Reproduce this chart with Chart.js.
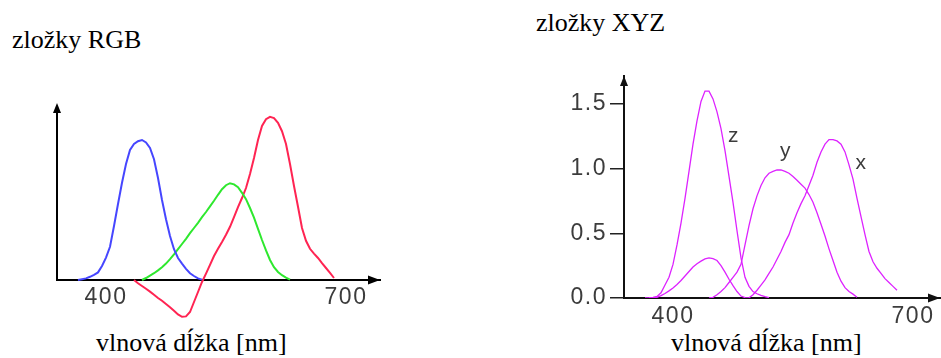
<!DOCTYPE html>
<html>
<head>
<meta charset="utf-8">
<script src="https://cdn.jsdelivr.net/npm/chart.js@4/dist/chart.umd.min.js"></script>
<style>
html,body{margin:0;padding:0;background:#fff;width:941px;height:358px;overflow:hidden;position:relative}
.cap{position:absolute;font-family:"Liberation Serif","Times New Roman",serif;font-size:26px;line-height:26px;color:#000;white-space:nowrap}
canvas{position:absolute;top:0}
</style>
</head>
<body>
<div class="cap" style="left:12px;top:26.5px">zložky RGB</div>
<div class="cap" style="left:536px;top:10px">zložky XYZ</div>
<div class="cap" style="left:96px;top:330px">vlnová dĺžka [nm]</div>
<div class="cap" style="left:671px;top:330px">vlnová dĺžka [nm]</div>
<canvas id="c1" width="470" height="358" style="left:0"></canvas>
<canvas id="c2" width="471" height="358" style="left:470px"></canvas>
<script>
// ---- data ----
const wavelengths = [365,370,375,380,385,390,395,400,405,410,415,420,425,430,435,440,445,450,455,460,465,470,475,480,485,490,495,500,505,510,515,520,525,530,535,540,545,550,555,560,565,570,575,580,585,590,595,600,605,610,615,620,625,630,635,640,645,650,655,660,665,670,675,680,685];

const rgbB = [0,0.002,0.004,0.008,0.013,0.019,0.035,0.056,0.083,0.135,0.19,0.243,0.29,0.325,0.34,0.347,0.35,0.344,0.33,0.302,0.255,0.2,0.152,0.11,0.077,0.055,0.041,0.028,0.017,0.01,0.004,0.001,null,null,null,null,null,null,null,null,null,null,null,null,null,null,null,null,null,null,null,null,null,null,null,null,null,null,null,null,null,null,null,null,null];
const rgbG = [null,null,null,null,null,null,null,null,null,null,null,null,null,null,null,null,0,0.005,0.011,0.017,0.024,0.032,0.041,0.052,0.064,0.077,0.09,0.103,0.117,0.13,0.143,0.157,0.17,0.184,0.198,0.213,0.227,0.237,0.242,0.239,0.232,0.218,0.202,0.18,0.156,0.128,0.1,0.074,0.05,0.032,0.02,0.012,0.006,0.001,null,null,null,null,null,null,null,null,null,null,null];
const rgbR = [null,null,null,null,null,null,null,null,null,null,null,null,null,null,0,-0.008,-0.015,-0.022,-0.029,-0.037,-0.045,-0.052,-0.06,-0.068,-0.077,-0.086,-0.092,-0.091,-0.08,-0.055,-0.03,-0.005,0.016,0.038,0.06,0.078,0.095,0.113,0.133,0.157,0.182,0.205,0.23,0.265,0.305,0.35,0.385,0.402,0.408,0.405,0.393,0.372,0.34,0.29,0.235,0.183,0.13,0.098,0.078,0.066,0.055,0.042,0.03,0.018,0.005];

const xyzZ = [0,0.002,0.005,0.012,0.04,0.1,0.16,0.26,0.41,0.58,0.77,0.98,1.19,1.37,1.52,1.6,1.6,1.54,1.44,1.31,1.14,0.94,0.74,0.52,0.31,0.16,0.09,0.05,0.033,0.02,0.01,0.003,null,null,null,null,null,null,null,null,null,null,null,null,null,null,null,null,null,null,null,null,null,null,null,null,null,null,null,null,null,null,null,null,null];
const xyzY = [null,null,null,null,null,null,null,null,null,null,null,null,null,null,null,null,0,0.005,0.025,0.05,0.08,0.12,0.16,0.2,0.26,0.41,0.56,0.69,0.79,0.87,0.93,0.965,0.98,0.99,0.99,0.98,0.965,0.94,0.91,0.88,0.85,0.8,0.74,0.66,0.57,0.48,0.38,0.29,0.2,0.13,0.08,0.05,0.03,0.005,null,null,null,null,null,null,null,null,null,null,null];
const xyzX = [null,null,0,0.005,0.018,0.035,0.055,0.077,0.105,0.135,0.17,0.205,0.24,0.265,0.285,0.303,0.31,0.305,0.29,0.25,0.2,0.145,0.095,0.05,0.015,0.003,0.001,0.025,0.06,0.1,0.14,0.19,0.24,0.3,0.36,0.43,0.49,0.58,0.66,0.73,0.79,0.87,0.95,1.05,1.13,1.19,1.225,1.225,1.215,1.19,1.13,1.03,0.92,0.77,0.63,0.49,0.36,0.28,0.23,0.19,0.15,0.12,0.09,0.06,null];

const xTickLabels = [400, 700];
const yTickLabelsXYZ = [0, 0.5, 1.0, 1.5];
const seriesNames = { r: 'R', g: 'G', b: 'B', x: 'x', y: 'y', z: 'z' };

// ---- helpers ----
const pts = vals => wavelengths.map((w, i) => ({x: w, y: vals[i]})).filter(p => p.y !== null);
const tickFont = {family: '"Liberation Sans", Arial, sans-serif', size: 23};
const tickColor = '#3c3c3c';

const spacing = {
  id: 'spacing',
  beforeLayout(chart) { chart.ctx.letterSpacing = '1.5px'; },
  beforeDraw(chart) { chart.ctx.letterSpacing = '1.5px'; }
};

const axisArrows = {
  id: 'axisArrows',
  afterDraw(chart, args, o) {
    const {ctx, chartArea: a, scales: {y}} = chart;
    const y0 = y.getPixelForValue(0);
    ctx.save();
    ctx.strokeStyle = o.color; ctx.fillStyle = o.color; ctx.lineWidth = o.width;
    if (o.drawYLine) {
      ctx.beginPath(); ctx.moveTo(a.left, y0); ctx.lineTo(a.left, a.top + 4); ctx.stroke();
    }
    ctx.beginPath();
    ctx.moveTo(a.left, a.top); ctx.lineTo(a.left - 4, a.top + 10); ctx.lineTo(a.left + 4, a.top + 10);
    ctx.closePath(); ctx.fill();
    ctx.beginPath();
    ctx.moveTo(a.right, y0); ctx.lineTo(a.right - 12, y0 - 4.5); ctx.lineTo(a.right - 12, y0 + 4.5);
    ctx.closePath(); ctx.fill();
    ctx.restore();
  }
};

const curveLabels = {
  id: 'curveLabels',
  afterDatasetsDraw(chart, args, o) {
    if (!o.show) return;
    const {ctx, scales: {x, y}} = chart;
    ctx.save();
    ctx.font = o.font; ctx.fillStyle = o.color; ctx.textAlign = 'center'; ctx.textBaseline = 'alphabetic';
    chart.data.datasets.forEach(ds => {
      if (ds.tagAt) ctx.fillText(ds.label, x.getPixelForValue(ds.tagAt[0]), y.getPixelForValue(ds.tagAt[1]));
    });
    ctx.restore();
  }
};

const lineDs = (label, vals, color, w, extra) => Object.assign({
  label, data: pts(vals), borderColor: color, borderWidth: w, pointRadius: 0, tension: 0, fill: false
}, extra || {});

// ---- RGB chart ----
new Chart(document.getElementById('c1'), {
  type: 'line',
  data: { datasets: [
    lineDs(seriesNames.b, rgbB, '#4646ff', 2),
    lineDs(seriesNames.g, rgbG, '#2ee82e', 2),
    lineDs(seriesNames.r, rgbR, '#ff2452', 2)
  ]},
  options: {
    responsive: false, animation: false,
    layout: { padding: {left: 57, top: 103, right: 90, bottom: 38} },
    plugins: { legend: {display: false}, tooltip: {enabled: false},
      axisArrows: {color: '#000', width: 2, drawYLine: true}, curveLabels: {show: false} },
    scales: {
      x: { type: 'linear', min: 338.75, max: 742.5, position: {y: 0},
        afterBuildTicks: s => { s.ticks = xTickLabels.map(v => ({value: v})); },
        ticks: { font: tickFont, color: tickColor, padding: 4, maxRotation: 0, callback: v => String(v) },
        grid: { display: false, drawTicks: false },
        border: { display: true, color: '#000', width: 2 } },
      y: { type: 'linear', min: -0.1, max: 0.4425, display: false }
    }
  },
  plugins: [spacing, axisArrows, curveLabels]
});

// ---- XYZ chart ----
const mag = '#dd22ff';
new Chart(document.getElementById('c2'), {
  type: 'line',
  data: { datasets: [
    lineDs(seriesNames.z, xyzZ, mag, 1.3, {tagAt: [476.25, 1.207]}),
    lineDs(seriesNames.y, xyzY, mag, 1.3, {tagAt: [541.25, 1.09]}),
    lineDs(seriesNames.x, xyzX, mag, 1.3, {tagAt: [635.6, 0.998]})
  ]},
  options: {
    responsive: false, animation: false,
    layout: { padding: {left: 0, top: 76, right: 1, bottom: 0} },
    plugins: { legend: {display: false}, tooltip: {enabled: false},
      axisArrows: {color: '#111', width: 2, drawYLine: false},
      curveLabels: {show: true, font: '21px "Liberation Sans", Arial, sans-serif', color: tickColor} },
    scales: {
      x: { type: 'linear', min: 338.75, max: 733.75, position: 'bottom',
        afterBuildTicks: s => { s.ticks = xTickLabels.map(v => ({value: v})); },
        afterFit: s => { s.height = 60; },
        ticks: { font: tickFont, color: tickColor, padding: 5, maxRotation: 0, callback: v => String(v) },
        grid: { display: false, drawTicks: false },
        border: { display: true, color: '#111', width: 2 } },
      y: { type: 'linear', min: 0, max: 1.717, position: 'left',
        afterBuildTicks: s => { s.ticks = yTickLabelsXYZ.map(v => ({value: v})); },
        afterFit: s => { s.width = 154; },
        ticks: { font: tickFont, color: tickColor, padding: 3, callback: v => Number(v).toFixed(1) },
        grid: { drawOnChartArea: false, drawTicks: true, tickLength: 14, color: '#222', lineWidth: 1.5 },
        border: { display: true, color: '#111', width: 2 } }
    }
  },
  plugins: [spacing, axisArrows, curveLabels]
});
</script>
</body>
</html>
